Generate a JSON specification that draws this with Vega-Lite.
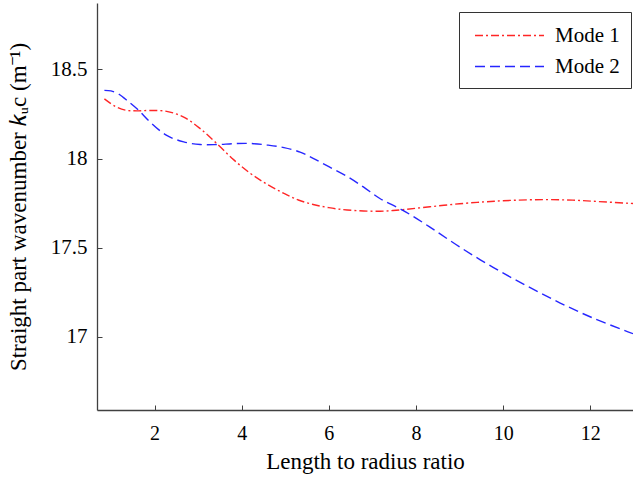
{
  "$schema": "https://vega.github.io/schema/vega-lite/v6.json",
  "autosize": "none",
  "width": 536,
  "height": 407,
  "padding": {"left": 97, "top": 3, "right": 0, "bottom": 74},
  "background": "white",
  "config": {
    "font": "'Liberation Serif', serif",
    "view": {"stroke": null},
    "axis": {"grid": false, "domainColor": "#404040", "domainWidth": 1.3, "tickColor": "#404040", "labelColor": "#000", "titleColor": "#000", "titleFontWeight": "normal", "labelFont": "'Liberation Serif', serif", "titleFont": "'Liberation Serif', serif"},
    "legend": {"labelFont": "'Liberation Serif', serif"}
  },
  "data": {"values": [
    {"mode": "Mode 1", "r": 0.85, "k": 18.335},
    {"mode": "Mode 1", "r": 1.1, "k": 18.293},
    {"mode": "Mode 1", "r": 1.33, "k": 18.272},
    {"mode": "Mode 1", "r": 1.6, "k": 18.268},
    {"mode": "Mode 1", "r": 1.9, "k": 18.27},
    {"mode": "Mode 1", "r": 2.28, "k": 18.265},
    {"mode": "Mode 1", "r": 2.67, "k": 18.233},
    {"mode": "Mode 1", "r": 3.05, "k": 18.168},
    {"mode": "Mode 1", "r": 3.43, "k": 18.084},
    {"mode": "Mode 1", "r": 3.82, "k": 17.993},
    {"mode": "Mode 1", "r": 4.2, "k": 17.917},
    {"mode": "Mode 1", "r": 4.59, "k": 17.855},
    {"mode": "Mode 1", "r": 4.97, "k": 17.805},
    {"mode": "Mode 1", "r": 5.3, "k": 17.768},
    {"mode": "Mode 1", "r": 5.64, "k": 17.743},
    {"mode": "Mode 1", "r": 6.0, "k": 17.725},
    {"mode": "Mode 1", "r": 6.42, "k": 17.712},
    {"mode": "Mode 1", "r": 7.18, "k": 17.705},
    {"mode": "Mode 1", "r": 7.7, "k": 17.714},
    {"mode": "Mode 1", "r": 8.32, "k": 17.73},
    {"mode": "Mode 1", "r": 9.0, "k": 17.747},
    {"mode": "Mode 1", "r": 9.6, "k": 17.758},
    {"mode": "Mode 1", "r": 10.2, "k": 17.766},
    {"mode": "Mode 1", "r": 10.92, "k": 17.77},
    {"mode": "Mode 1", "r": 11.6, "k": 17.767},
    {"mode": "Mode 1", "r": 12.2, "k": 17.759},
    {"mode": "Mode 1", "r": 12.85, "k": 17.75},
    {"mode": "Mode 1", "r": 12.98, "k": 17.748},
    {"mode": "Mode 2", "r": 0.85, "k": 18.383},
    {"mode": "Mode 2", "r": 1.0, "k": 18.38},
    {"mode": "Mode 2", "r": 1.18, "k": 18.362},
    {"mode": "Mode 2", "r": 1.41, "k": 18.318},
    {"mode": "Mode 2", "r": 1.64, "k": 18.27},
    {"mode": "Mode 2", "r": 1.9, "k": 18.205},
    {"mode": "Mode 2", "r": 2.28, "k": 18.13},
    {"mode": "Mode 2", "r": 2.67, "k": 18.094},
    {"mode": "Mode 2", "r": 3.05, "k": 18.079},
    {"mode": "Mode 2", "r": 3.43, "k": 18.079},
    {"mode": "Mode 2", "r": 3.82, "k": 18.084},
    {"mode": "Mode 2", "r": 4.2, "k": 18.085},
    {"mode": "Mode 2", "r": 4.59, "k": 18.076},
    {"mode": "Mode 2", "r": 4.97, "k": 18.062},
    {"mode": "Mode 2", "r": 5.34, "k": 18.037},
    {"mode": "Mode 2", "r": 5.64, "k": 18.002},
    {"mode": "Mode 2", "r": 6.0, "k": 17.955},
    {"mode": "Mode 2", "r": 6.42, "k": 17.9},
    {"mode": "Mode 2", "r": 6.8, "k": 17.84},
    {"mode": "Mode 2", "r": 7.18, "k": 17.775},
    {"mode": "Mode 2", "r": 7.7, "k": 17.71},
    {"mode": "Mode 2", "r": 8.32, "k": 17.616},
    {"mode": "Mode 2", "r": 9.0, "k": 17.505},
    {"mode": "Mode 2", "r": 9.77, "k": 17.39},
    {"mode": "Mode 2", "r": 10.55, "k": 17.285},
    {"mode": "Mode 2", "r": 11.31, "k": 17.19},
    {"mode": "Mode 2", "r": 12.07, "k": 17.105},
    {"mode": "Mode 2", "r": 12.85, "k": 17.03},
    {"mode": "Mode 2", "r": 12.98, "k": 17.018}
  ]},
  "mark": {"type": "line", "interpolate": "catmull-rom", "strokeWidth": 1.4, "opacity": 0.85, "clip": true},
  "encoding": {
    "x": {"field": "r", "type": "quantitative", "scale": {"domain": [0.68, 12.98], "nice": false, "zero": false},
      "axis": {"values": [2, 4, 6, 8, 10, 12], "title": "Length to radius ratio", "labelFontSize": 20, "titleFontSize": 23, "tickSize": -5, "labelPadding": 18, "titlePadding": 7, "labelExpr": "datum.value"}},
    "y": {"field": "k", "type": "quantitative", "scale": {"domain": [16.59, 18.873], "nice": false, "zero": false},
      "axis": {"values": [17, 17.5, 18, 18.5], "title": "Straight part wavenumber 𝑘ᵤc (m⁻¹)", "labelFontSize": 21, "titleFontSize": 23, "tickSize": -5, "labelPadding": 15, "titleX": -67, "titleBaseline": "bottom", "labelExpr": "datum.value"}},
    "color": {"field": "mode", "type": "nominal", "scale": {"domain": ["Mode 1", "Mode 2"], "range": ["#ff0000", "#0000ff"]},
      "legend": {"title": null, "orient": "none", "legendX": 362, "legendY": 9, "symbolType": "M-3,0H3", "symbolSize": 529, "symbolStrokeWidth": 1.4, "labelFontSize": 21, "labelColor": "#000", "strokeColor": "#333", "padding": 11, "rowPadding": 8, "labelOffset": 33, "symbolOffset": 27, "fillColor": "white"}},
    "strokeDash": {"field": "mode", "type": "nominal", "scale": {"domain": ["Mode 1", "Mode 2"], "range": [[8, 3, 2, 3], [10, 5]]}, "legend": {"title": null}}
  }
}
